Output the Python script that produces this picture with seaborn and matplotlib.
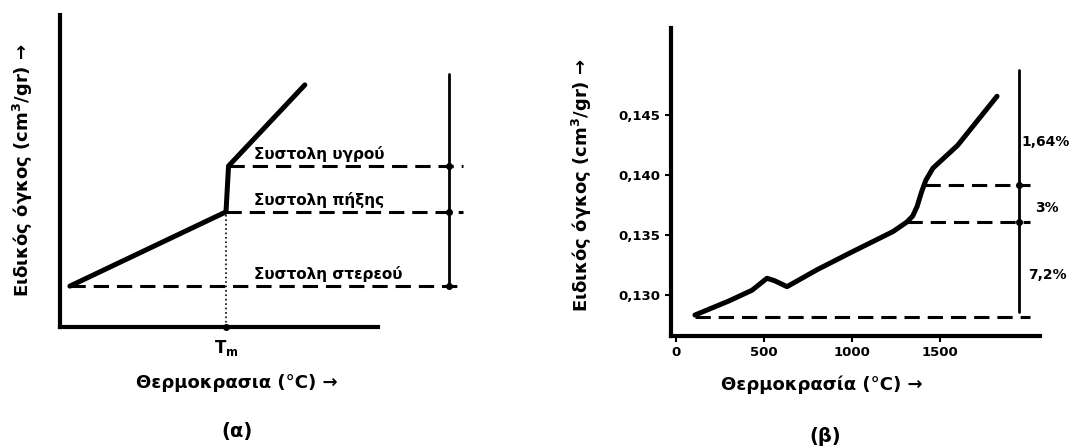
import matplotlib
matplotlib.use("Agg")
import matplotlib.pyplot as plt
import matplotlib.ticker as mticker
import seaborn as sns

# ---- panel (a): schematic, unitless axes ----
a_temp = [0.31, 5.22, 5.30, 7.70]
a_vol = [1.31, 3.69, 5.16, 7.76]
a_levels = [5.16, 3.69, 1.31]          # liquid, solidification, solid
a_level_start = [5.30, 5.22, 0.31]
a_labels = ["Συστολη υγρού", "Συστολη πήξης", "Συστολη στερεού"]
a_bar_x = 12.23
a_bar_top = 8.11
a_line_end = 12.67
a_tm = 5.22

# ---- panel (b): measured curve ----
b_temp = [108, 300, 432, 517, 560, 631, 800, 1000, 1233, 1312, 1345, 1370, 1395, 1420, 1460, 1600, 1824]
b_vol = [0.12833, 0.1295, 0.1304, 0.1314, 0.1312, 0.1307, 0.1321, 0.1336, 0.1353, 0.1361, 0.1366, 0.1374, 0.1386, 0.1396, 0.1406, 0.1425, 0.1466]
b_levels = [0.1392, 0.1361, 0.1282]
b_level_start = [1415, 1312, 108]
b_line_end = 2011
b_bar_x = 1949
b_bar_top = 0.1488
b_pct = ["1,64%", "3%", "7,2%"]
b_pct_x = [1965, 2040, 2000]
b_pct_y = [0.14275, 0.1373, 0.13167]
b_xticks = [0, 500, 1000, 1500]
b_yticks = [0.130, 0.135, 0.140, 0.145]

sns.set_theme(style="white")
plt.rcParams["font.family"] = ["DejaVu Sans"]
plt.rcParams["font.weight"] = "bold"
plt.rcParams["text.color"] = "black"
plt.rcParams["axes.labelcolor"] = "black"

W, H = 1087, 446
fig = plt.figure(figsize=(W / 100, H / 100), dpi=100)

def px_axes(l, r, t, b):
    return fig.add_axes([l / W, (H - b) / H, (r - l) / W, (b - t) / H])

def px_text(x, y, s, **kw):
    fig.text(x / W, 1 - y / H, s, ha="center", va="center", fontweight="bold", **kw)

dash = (5, 2.6)
ylab = "Ειδικός όγκος (cm$^3$/gr) →"

# ----- (a) -----
ax1 = px_axes(60, 470, 15, 327)
ax1.set_xlim(0, 410 / 31.8)
ax1.set_ylim(0, 10)
sns.lineplot(x=a_temp, y=a_vol, ax=ax1, color="black", lw=3.6, sort=False)
for y0, x0 in zip(a_levels, a_level_start):
    sns.lineplot(x=[x0, a_line_end], y=[y0, y0], ax=ax1, color="black", lw=2.2,
                 linestyle=(0, dash), clip_on=False)
ax1.plot([a_bar_x, a_bar_x], [a_levels[-1], a_bar_top], color="black", lw=2, clip_on=False)
ax1.plot([a_bar_x] * len(a_levels), a_levels, "o", color="black", ms=4, clip_on=False)
ax1.plot([a_tm, a_tm], [0, a_vol[1]], color="black", lw=1.2, ls=":", clip_on=False)
ax1.plot([a_tm], [0], marker="o", color="black", ms=4, clip_on=False)
for y0, lab in zip(a_levels, a_labels):
    ax1.text(6.1, y0 + 0.12, lab, fontsize=11, fontweight="bold", va="bottom", ha="left")
ax1.text(a_tm, -0.35, "T$_\\mathregular{m}$", fontsize=12, fontweight="bold", ha="center", va="top")
for s in ["top", "right"]:
    ax1.spines[s].set_visible(False)
for s in ["left", "bottom"]:
    ax1.spines[s].set_linewidth(3)
    ax1.spines[s].set_color("black")
ax1.spines["bottom"].set_bounds(0, 10)
ax1.set_xticks([])
ax1.set_yticks([])
px_text(23, 170, ylab, fontsize=13, rotation=90)
px_text(237, 383, "Θερμοκρασια (°C) →", fontsize=13)
px_text(237, 432, "(α)", fontsize=14)

# ----- (b) -----
ax2 = px_axes(671, 1040, 28, 336)
ax2.set_xlim(-28, 2068)
ax2.set_ylim(0.12658, 0.1523)
sns.lineplot(x=b_temp, y=b_vol, ax=ax2, color="black", lw=3.6, sort=False)
for y0, x0 in zip(b_levels, b_level_start):
    sns.lineplot(x=[x0, b_line_end], y=[y0, y0], ax=ax2, color="black", lw=2.2,
                 linestyle=(0, dash), clip_on=False)
ax2.plot([b_bar_x, b_bar_x], [b_levels[-1] + 0.0004, b_bar_top], color="black", lw=2)
ax2.plot([b_bar_x] * 2, b_levels[:2], "o", color="black", ms=4)
for x0, y0, lab in zip(b_pct_x, b_pct_y, b_pct):
    ax2.text(x0, y0, lab, fontsize=10, fontweight="bold", va="center", ha="left",
             clip_on=False)
for s in ["top", "right"]:
    ax2.spines[s].set_visible(False)
for s in ["left", "bottom"]:
    ax2.spines[s].set_linewidth(3)
    ax2.spines[s].set_color("black")
ax2.set_xticks(b_xticks)
ax2.set_yticks(b_yticks)
ax2.yaxis.set_major_formatter(mticker.FuncFormatter(lambda v, p: f"{v:.3f}".replace(".", ",")))
ax2.tick_params(axis="both", direction="out", length=4, width=1.5, colors="black",
                labelsize=9.5, left=True, bottom=True)
for lab in ax2.get_xticklabels() + ax2.get_yticklabels():
    lab.set_fontweight("bold")
px_text(582, 185, ylab, fontsize=13, rotation=90)
px_text(822, 385, "Θερμοκρασία (°C) →", fontsize=13)
px_text(825, 437, "(β)", fontsize=14)

fig.savefig("out.png", dpi=100, facecolor="white")
